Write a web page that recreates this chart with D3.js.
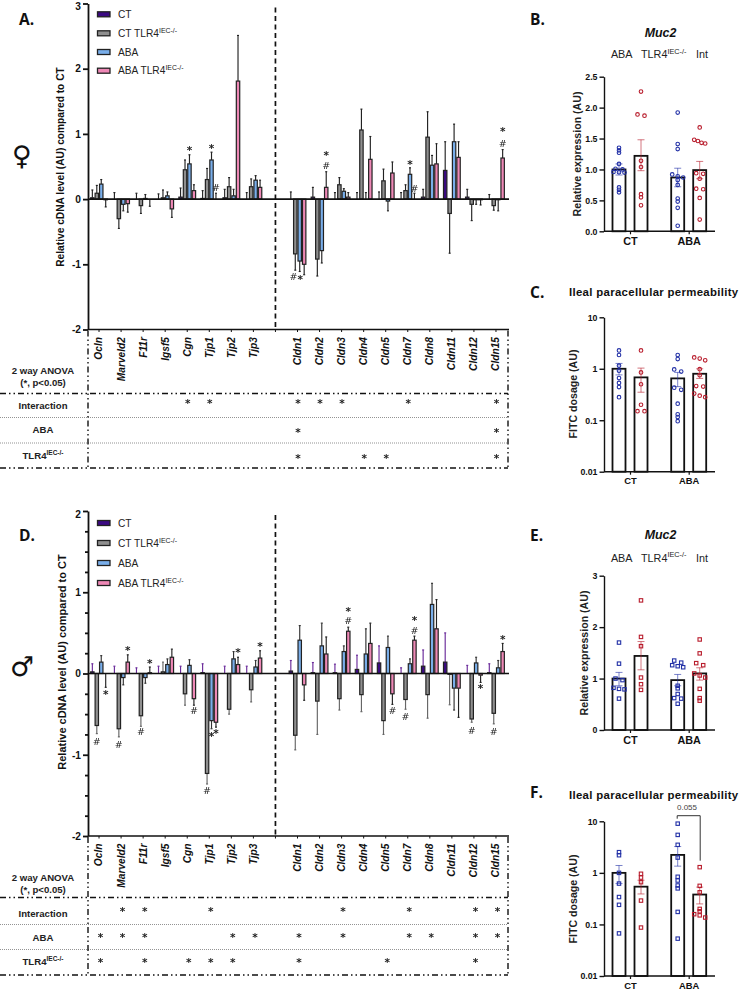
<!DOCTYPE html>
<html>
<head>
<meta charset="utf-8">
<script src="https://cdn.jsdelivr.net/npm/d3@7/dist/d3.min.js"></script>
<style>
  html, body { margin: 0; padding: 0; background: #fff; }
  svg { display: block; font-family: "Liberation Sans", Arial, sans-serif; filter: grayscale(1) hue-rotate(0deg); }
  .axis path, .axis line { stroke: #111; }
  .axis text { fill: #111; font-weight: 700; }
</style>
</head>
<body>
<div id="chart"></div>
<script>
// Tight-junction gene list; the empty slot separates the two gene families.
const GAP = "gap";
const genes = ["Ocln","Marveld2","F11r","Igsf5","Cgn","Tjp1","Tjp2","Tjp3",GAP,
               "Cldn1","Cldn2","Cldn3","Cldn4","Cldn5","Cldn7","Cldn8","Cldn11","Cldn12","Cldn15"];
const geneNames = genes.filter(g => g !== GAP);
const legendNames = ["CT", "CT TLR4", "ABA", "ABA TLR4"];
const seriesColors = ["#3b0a82", "#8f8f8f", "#79aeea", "#ee88b6"];

// Female cDNA levels (bar value and the far end of its error bar)
const femaleCT      = [0.02,0,0,0,0.03,0.01,0.02,0, 0,0.03,0,0,0,0,0.03,0.44,0.03,0];
const femaleCTEnd   = [0.14,0.10,0.09,0.08,0.17,0.13,0.15,0.10, 0.11,0.18,0.10,0.10,0.11,0.10,0.15,0.88,0.15,0.07];
const femaleKO      = [0.09,-0.30,-0.10,0.02,0.45,0.30,0.19,0.19, -0.84,-0.92,0.22,1.06,0.28,0.13,0.95,-0.22,-0.08,-0.10];
const femaleKOEnd   = [0.21,-0.45,-0.22,0.14,0.60,0.47,0.33,0.31, -1.09,-1.18,0.33,1.38,0.46,0.22,1.34,-0.83,-0.33,-0.17];
const femaleABA     = [0.23,-0.08,0.01,0.05,0.54,0.60,0.05,0.29, -0.95,-0.79,0.12,0,-0.03,0.38,0.52,0.88,-0.01,-0.01];
const femaleABAEnd  = [0.30,-0.18,0.07,0.11,0.68,0.72,0.15,0.36, -1.11,-0.98,0.16,0.10,-0.18,0.48,0.67,1.15,-0.08,-0.18];
const femaleBoth    = [-0.01,-0.07,0,-0.15,0.13,0,1.81,0.18, -1.00,0.18,0.03,0.61,0.40,0,0.54,0.64,-0.01,0.63];
const femaleBothEnd = [-0.12,-0.20,-0.11,-0.28,0.22,0.09,2.51,0.29, -1.16,0.42,0.10,0.96,0.57,0.09,0.85,0.88,-0.09,0.76];

// Male cDNA levels
const maleCT      = [0.02,0,0,0,0,0.01,0,0, 0.03,0.01,0.01,0.05,0.13,0,0.09,0.14,0,0.01];
const maleCTEnd   = [0.12,0.09,0.07,0.09,0.09,0.12,0.09,0.09, 0.16,0.135,0.115,0.225,0.34,0.07,0.29,0.50,0.10,0.12];
const maleKO      = [-0.64,-0.68,-0.52,0.02,-0.25,-1.23,-0.44,-0.20, -0.76,-0.34,-0.31,-0.26,-0.58,-0.32,-0.26,-0.01,-0.56,-0.49];
const maleKOEnd   = [-0.74,-0.78,-0.65,0.14,-0.39,-1.36,-0.50,-0.35, -0.94,-0.75,-0.45,-0.47,-0.75,-0.44,-0.55,-0.385,-0.60,-0.62];
const maleABA     = [0.14,-0.05,-0.05,0.11,0.10,-0.58,0.18,0.08, 0.41,0.34,0.27,0.24,0.32,0.12,0.85,-0.18,0.13,0.07];
const maleABAEnd  = [0.22,-0.14,-0.12,0.18,0.17,-0.68,0.27,0.16, 0.59,0.62,0.34,0.55,0.46,0.18,1.11,-0.45,0.20,0.16];
const maleBoth    = [0,0.14,0.01,0.20,-0.31,-0.60,0.11,0.19, -0.14,0.24,0.52,0.37,-0.25,0.41,0.55,-0.18,-0.02,0.27];
const maleBothEnd = [-0.17,0.23,0.08,0.30,-0.39,-0.66,0.20,0.28, -0.33,0.45,0.57,0.62,-0.38,0.46,0.91,-0.54,-0.11,0.37];

// Significance glyphs: gene, treatment index, height on the value axis, glyph
const femaleMarks = [["Cgn",2,0.77,"*"],["Tjp1",2,0.80,"*"],["Tjp1",3,0.18,"#"],
  ["Cldn1",0.6,-1.19,"#"],["Cldn1",2.1,-1.20,"*"],["Cldn2",3,0.69,"*"],["Cldn2",3,0.51,"#"],
  ["Cldn7",2,0.56,"*"],["Cldn7",3,0.16,"#"],["Cldn15",3,1.06,"*"],["Cldn15",3,0.85,"#"]];
const maleMarks = [["Ocln",3,-0.235,"*"],["Ocln",1,-0.84,"#"],["Marveld2",1,-0.87,"#"],["Marveld2",3,0.30,"*"],
  ["F11r",1,-0.72,"#"],["F11r",3,0.15,"*"],["Cgn",3,-0.46,"#"],["Tjp1",1,-1.44,"#"],["Tjp1",2,-0.75,"*"],
  ["Tjp1",3,-0.72,"*"],["Tjp2",3,0.28,"*"],["Tjp3",3,0.36,"*"],["Cldn3",3,0.79,"*"],["Cldn3",3,0.65,"#"],
  ["Cldn5",3,-0.455,"#"],["Cldn7",1,-0.53,"#"],["Cldn7",3,0.67,"*"],["Cldn7",3,0.53,"#"],
  ["Cldn12",1,-0.70,"#"],["Cldn12",3,-0.165,"*"],["Cldn15",1,-0.71,"#"],["Cldn15",3,0.44,"*"]];

// Two-way ANOVA rows: genes carrying a significant effect
const anovaRows = ["Interaction", "ABA", "TLR4"];
const femaleInteraction = ["Cgn","Tjp1","Cldn1","Cldn2","Cldn3","Cldn7","Cldn15"];
const femaleABAEffect   = ["Cldn1","Cldn15"];
const femaleTLR4Effect  = ["Cldn1","Cldn4","Cldn5","Cldn15"];
const maleInteraction = ["Marveld2","F11r","Tjp1","Cldn3","Cldn7","Cldn12","Cldn15"];
const maleABAEffect   = ["Ocln","Marveld2","F11r","Tjp2","Tjp3","Cldn1","Cldn3","Cldn7","Cldn8","Cldn12","Cldn15"];
const maleTLR4Effect  = ["Ocln","F11r","Cgn","Tjp1","Tjp2","Cldn1","Cldn5","Cldn12"];

// Side panels, cells ordered CT, CT TLR4, ABA, ABA TLR4
const treatments = ["CT", "ABA"];
const genotypes = ["ctrl", "ko"];
const mucFemalePoints = [
  [1.35,1.31,1.27,1.09,1.01,1.00,0.96,0.955,0.95,0.71,0.67,0.63],
  [2.26,1.89,1.87,1.14,1.04,0.60,0.55,0.42],
  [1.92,1.41,1.33,0.92,0.89,0.87,0.83,0.75,0.53,0.48,0.38,0.09],
  [1.68,1.48,1.46,1.43,1.42,0.94,0.93,0.85,0.69,0.68,0.54,0.19]];
const mucFemaleMean = [1.00,1.22,0.87,0.99];
const mucFemaleLow  = [0.91,0.98,0.72,0.85];
const mucFemaleHigh = [1.09,1.48,1.02,1.13];

const fitcFemalePoints = [
  [2.27,1.85,1.15,0.92,0.66,0.53,0.44,0.28],
  [2.27,0.85,0.50,0.20,0.15,0.15],
  [1.85,1.54,0.97,0.88,0.43,0.39,0.21,0.13,0.115,0.096],
  [1.66,1.58,1.46,0.98,0.75,0.46,0.45,0.33,0.30,0.28]];
const fitcFemaleMean = [1.00,0.68,0.65,0.80];
const fitcFemaleLow  = [0.76,0.35,0.45,0.65];
const fitcFemaleHigh = [1.27,1.03,0.85,1.00];

const mucMalePoints = [
  [1.70,1.29,1.00,0.97,0.82,0.80,0.79,0.61],
  [2.52,1.81,1.63,1.02,0.89,0.78],
  [1.35,1.31,1.26,1.24,1.22,0.86,0.81,0.70,0.62,0.61,0.51],
  [1.76,1.49,1.30,1.26,1.10,1.06,1.02,0.80,0.62,0.57]];
const mucMaleMean = [1.00,1.44,0.97,1.10];
const mucMaleLow  = [0.86,1.17,0.86,0.97];
const mucMaleHigh = [1.12,1.72,1.08,1.21];

const fitcMalePoints = [
  [2.52,2.20,1.00,0.62,0.34,0.24,0.067],
  [0.96,0.81,0.66,0.29,0.087],
  [9.00,5.45,3.50,1.98,0.84,0.71,0.57,0.50,0.175,0.053],
  [1.29,0.56,0.42,0.20,0.18,0.158,0.15,0.136]];
const fitcMaleMean = [1.00,0.54,2.23,0.38];
const fitcMaleLow  = [0.62,0.39,1.35,0.25];
const fitcMaleHigh = [1.39,0.72,3.24,0.53];

const svg = d3.select("#chart").append("svg").attr("width", 750).attr("height", 990).style("filter", "none");

// Writes "TLR4" followed by the raised IEC-/- suffix into a text element.
function tlrText(sel, prefix, size) {
  sel.append("tspan").text(prefix + "TLR4");
  sel.append("tspan").attr("dy", -size * 0.38).attr("font-size", size * 0.68).text("IEC-/-");
}

function drawPanelLetter(label, x, y) {
  svg.append("text").attr("x", x).attr("y", y).text(label)
    .attr("font-family", "'Open Sans', sans-serif").attr("font-weight", 700).attr("font-size", 15.5).attr("fill", "#111");
}

// Large grouped bar panel with its ANOVA table below
function drawGenePanel(cfg) {
  const g = svg.append("g");
  const left = 88, right = 507;
  const x = d3.scaleBand().domain(genes).range([left, right]);
  const inner = d3.scaleLinear().domain([0, 3]).range([-6.675, 6.675]);
  const y = d3.scaleLinear().domain([-2, cfg.top]).range([cfg.y0, cfg.y1]);
  const axisBack = g.append("g");

  // gene families separator
  axisBack.append("line").attr("x1", x(GAP) + x.bandwidth() / 2).attr("x2", x(GAP) + x.bandwidth() / 2)
    .attr("y1", cfg.y1 + 4).attr("y2", cfg.y0)
    .attr("stroke", "#111").attr("stroke-width", 1.7).attr("stroke-dasharray", "5 3.5");

  cfg.series.forEach((s, i) => {
    const sg = g.append("g");
    const cx = gene => x(gene) + x.bandwidth() / 2 + inner(i);
    const errColor = (cfg.errColors && cfg.errColors[i]) || "#222";
    s.values.forEach((v, k) => {
      const gene = geneNames[k], end = s.ends[k], px = cx(gene);
      sg.append("line").attr("x1", px).attr("x2", px).attr("y1", y(v)).attr("y2", y(end))
        .attr("stroke", errColor).attr("stroke-width", 1.15);
      sg.append("line").attr("x1", px - 1).attr("x2", px + 1).attr("y1", y(end)).attr("y2", y(end))
        .attr("stroke", errColor).attr("stroke-width", 1.15);
      sg.append("rect").attr("x", px - 1.7).attr("width", 3.4)
        .attr("y", Math.min(y(v), y(0))).attr("height", Math.abs(y(v) - y(0)))
        .attr("fill", seriesColors[i]).attr("stroke", "#222").attr("stroke-width", 1.2);
    });
  });

  // y axis and zero line: integers carry labels, quarter steps only a short tick
  const yAxis = d3.axisLeft(y).tickValues(cfg.ticks)
    .tickFormat(d => Number.isInteger(d) ? String(d) : "")
    .tickSize(5).tickSizeOuter(0).tickPadding(2);
  g.append("g").attr("class", "axis").attr("transform", `translate(${left},0)`).call(yAxis)
    .call(a => a.selectAll("line,path").attr("stroke-width", 1.8))
    .call(a => a.selectAll(".tick").filter(d => !Number.isInteger(d)).select("line").attr("x2", -3))
    .call(a => a.selectAll("text").attr("font-size", 10.2))
    .call(a => a.selectAll(".tick").filter(d => d === cfg.top).select("text").attr("dy", "0.6em"));
  g.append("line").attr("x1", left).attr("x2", 509).attr("y1", y(0)).attr("y2", y(0))
    .attr("stroke", "#111").attr("stroke-width", 1.7);

  // gene axis along the bottom
  const xAxis = d3.axisBottom(x).tickFormat(d => d === GAP ? "" : d).tickSize(2.5).tickSizeOuter(0);
  const xG = g.append("g").attr("class", "axis").attr("transform", `translate(0,${cfg.y0})`).call(xAxis);
  xG.selectAll("path").attr("d", `M${left},0H509`).attr("stroke-width", 1.7);
  xG.selectAll("line").attr("stroke-width", 1);
  xG.selectAll("text").attr("transform", "rotate(-90)")
    .attr("x", -7.5).attr("y", 0).attr("dy", "0.34em")
    .attr("text-anchor", "end").attr("font-style", "italic").attr("font-size", 10.2);

  // significance glyphs over the bars
  cfg.marks.forEach(([gene, si, val, glyph]) => {
    const px = x(gene) + x.bandwidth() / 2 + inner(si);
    g.append("text").attr("x", px).attr("y", y(val)).attr("text-anchor", "middle")
      .attr("dy", glyph === "*" ? "0.5em" : "0.36em")
      .attr("font-family", "'DejaVu Sans', sans-serif")
      .attr("font-weight", glyph === "*" ? 700 : 400)
      .attr("font-size", glyph === "*" ? 10.5 : 9.5).attr("fill", "#222")
      .style("filter", "grayscale(1)").text(glyph);
  });

  // value axis caption
  g.append("text").attr("transform", `translate(${cfg.labelX},${cfg.labelY}) rotate(-90)`)
    .attr("text-anchor", "middle").attr("font-weight", 700).attr("font-size", cfg.labelSize).attr("fill", "#111")
    .text("Relative cDNA level (AU) compared to CT");

  // legend
  legendNames.forEach((name, i) => {
    const ly = cfg.legendYs[i];
    g.append("rect").attr("x", 97.5).attr("y", ly - 2.5).attr("width", 12.5).attr("height", 5)
      .attr("fill", seriesColors[i]).attr("stroke", "#222").attr("stroke-width", 1.3);
    const t = g.append("text").attr("x", 118).attr("y", ly + 3.6).attr("font-size", 10.2).attr("fill", "#222");
    if (i % 2) tlrText(t, name.replace("TLR4", ""), 10.2); else t.text(name);
  });

  // ANOVA table
  const t = cfg.table;
  const hLine = (yy, main) => g.append("line").attr("x1", 0).attr("x2", 508).attr("y1", yy).attr("y2", yy)
    .attr("stroke", main ? "#111" : "#777").attr("stroke-width", main ? 1.5 : 0.8)
    .attr("stroke-dasharray", main ? "6 3 1.5 3 1.5 3" : "1 1");
  hLine(t.lines[0], true); hLine(t.lines[1], false); hLine(t.lines[2], false); hLine(t.lines[3], true);
  [left, 508].forEach(vx => g.append("line").attr("x1", vx).attr("x2", vx).attr("y1", cfg.y0 + 1).attr("y2", t.lines[3])
    .attr("stroke", "#111").attr("stroke-width", 1.4).attr("stroke-dasharray", "6 3 1.5 3 1.5 3"));

  const center = 43;
  const cell = (yy, txt) => g.append("text").attr("x", center).attr("y", yy).attr("text-anchor", "middle")
    .attr("font-weight", 700).attr("font-size", 9.6).attr("fill", "#222").text(txt);
  cell(t.head[0], "2 way ANOVA");
  cell(t.head[1], "(*, p<0.05)");
  cell(t.rows[0], anovaRows[0]);
  cell(t.rows[1], anovaRows[1]);
  const tlr = g.append("text").attr("x", center).attr("y", t.rows[2]).attr("text-anchor", "middle")
    .attr("font-weight", 700).attr("font-size", 9.6).attr("fill", "#222");
  tlrText(tlr, "", 9.6);

  t.effects.forEach((list, r) => list.forEach(gene => {
    g.append("text").attr("x", x(gene) + x.bandwidth() / 2 + t.nudge).attr("y", t.starY[r])
      .attr("text-anchor", "middle").attr("dy", "0.5em").attr("font-weight", 700)
      .attr("font-family", "'DejaVu Sans', sans-serif").attr("font-size", 10.5).attr("fill", "#222")
      .style("filter", "grayscale(1)").text("*");
  }));
}

// Spreads near-equal readings sideways so that every point stays visible.
function spreadPoints(values, y) {
  const sorted = values.map(v => ({ v, py: y(v) })).sort((a, b) => a.py - b.py);
  const out = [];
  let run = [];
  const flush = () => {
    const n = run.length;
    const span = n === 1 ? 0 : n === 2 ? 3.5 : 5.5;
    run.forEach((p, i) => out.push({ v: p.v, dx: n === 1 ? 0 : -span + 2 * span * i / (n - 1) }));
    run = [];
  };
  sorted.forEach(p => {
    if (run.length && (p.py - run[run.length - 1].py > 2.2 || run.length === 5)) flush();
    run.push(p);
  });
  flush();
  return out;
}

// Small two-by-two bar panel with overlaid individual values
function drawDotPanel(cfg) {
  const g = svg.append("g");
  const left = 604;
  const x = d3.scalePoint().domain(treatments).range([630, 688.7]);
  const sub = d3.scalePoint().domain(genotypes).range([-11, 11]);
  const y = cfg.log
    ? d3.scaleLog().domain([0.01, 10]).range([cfg.y0, cfg.y1])
    : d3.scaleLinear().domain([0, cfg.max]).range([cfg.y0, cfg.y1]);
  const blue = "#2230a6", red = "#b81c2c";

  treatments.forEach((tr, ti) => genotypes.forEach((ge, gi) => {
    const k = ti * 2 + gi, cx = x(tr) + sub(ge), color = gi ? red : blue;
    g.append("rect").attr("x", cx - 6.5).attr("width", 13).attr("y", y(cfg.mean[k])).attr("height", cfg.y0 - y(cfg.mean[k]))
      .attr("fill", "#fff").attr("stroke", "#111").attr("stroke-width", 1.8);
    const eg = g.append("g").attr("stroke", color).attr("stroke-opacity", 0.6).attr("stroke-width", 1);
    eg.append("line").attr("x1", cx).attr("x2", cx).attr("y1", y(cfg.low[k])).attr("y2", y(cfg.high[k]));
    [cfg.low[k], cfg.high[k]].forEach(e => eg.append("line").attr("x1", cx - 3.5).attr("x2", cx + 3.5).attr("y1", y(e)).attr("y2", y(e)));
    spreadPoints(cfg.points[k], y).forEach(p => {
      const px = cx + p.dx, py = y(p.v);
      if (cfg.square) {
        g.append("rect").attr("x", px - 1.7).attr("y", py - 1.7).attr("width", 3.4).attr("height", 3.4)
          .attr("fill", "none").attr("stroke", color).attr("stroke-width", 1.1);
      } else {
        g.append("circle").attr("cx", px).attr("cy", py).attr("r", 1.8)
          .attr("fill", "none").attr("stroke", color).attr("stroke-width", 1.1);
      }
    });
  }));

  const yAxis = d3.axisLeft(y).tickSize(4.5).tickSizeOuter(0).tickPadding(2);
  if (cfg.log) yAxis.tickValues([0.01, 0.1, 1, 10]).tickFormat(d => String(d));
  else yAxis.tickValues(cfg.ticks).tickFormat(cfg.fmt);
  g.append("g").attr("class", "axis").attr("transform", `translate(${left},0)`).call(yAxis)
    .call(a => a.selectAll("line,path").attr("stroke-width", 1.4))
    .call(a => a.selectAll("text").attr("font-size", 8.8));

  const xG = g.append("g").attr("class", "axis").attr("transform", `translate(0,${cfg.y0})`)
    .call(d3.axisBottom(x).tickSize(3).tickSizeOuter(0).tickPadding(3));
  xG.select("path").attr("d", `M${left},0H715`).attr("stroke-width", 1.4);
  xG.selectAll("line").attr("stroke-width", 1.2);
  xG.selectAll("text").attr("font-size", cfg.log ? 9.4 : 10.8);

  g.append("text").attr("transform", `translate(${cfg.labelX},${cfg.labelY}) rotate(-90)`)
    .attr("text-anchor", "middle").attr("font-weight", 700).attr("font-size", 10.6).attr("fill", "#222")
    .text(cfg.label);

  if (cfg.title) {
    g.append("text").attr("x", 660.5).attr("y", cfg.titleY).attr("text-anchor", "middle")
      .attr("font-weight", 700).attr("font-style", "italic").attr("font-size", 12.4).attr("fill", "#111").text(cfg.title);
    g.append("text").attr("x", 621.7).attr("y", cfg.factorY).attr("text-anchor", "middle").attr("font-size", 10.8).attr("fill", "#222").text("ABA");
    tlrText(g.append("text").attr("x", 641).attr("y", cfg.factorY).attr("font-size", 10.8).attr("fill", "#222"), "", 10.8);
    g.append("text").attr("x", 702).attr("y", cfg.factorY).attr("text-anchor", "middle").attr("font-size", 10.8).attr("fill", "#222").text("Int");
  } else {
    g.append("text").attr("x", 569).attr("y", cfg.titleY).attr("font-weight", 700).attr("font-size", 11.4)
      .attr("letter-spacing", 0.32).attr("fill", "#111").text("Ileal paracellular permeability");
  }

  if (cfg.bracket) {
    const [a, b] = cfg.bracket;
    const xa = x("ABA") + sub("ctrl") - 0.5, xb = x("ABA") + sub("ko") + 0.5;
    g.append("path").attr("d", `M${xa},${a + 3}V${a}H${xb}V${b}`)
      .attr("fill", "none").attr("stroke", "#333").attr("stroke-width", 1);
    g.append("text").attr("x", 687).attr("y", a - 6).attr("text-anchor", "middle")
      .attr("font-size", 8).attr("fill", "#444").text(cfg.bracketLabel);
  }
}

drawGenePanel({
  top: 3, y0: 329.5, y1: 3.5, ticks: [-2,-1,0,1,2,3],
  series: [{values: femaleCT, ends: femaleCTEnd}, {values: femaleKO, ends: femaleKOEnd},
           {values: femaleABA, ends: femaleABAEnd}, {values: femaleBoth, ends: femaleBothEnd}],
  marks: femaleMarks,
  labelX: 63.5, labelY: 167, labelSize: 10.2,
  legendYs: [14.3, 33.3, 52, 70.7],
  table: { lines: [393.5, 417.5, 443, 468], head: [373.5, 386], rows: [409, 433, 459],
           starY: [402, 431, 457], nudge: 0.5,
           effects: [femaleInteraction, femaleABAEffect, femaleTLR4Effect] }
});

drawGenePanel({
  top: 2, y0: 836, y1: 511, ticks: d3.range(-2, 2.01, 0.25),
  series: [{values: maleCT, ends: maleCTEnd}, {values: maleKO, ends: maleKOEnd},
           {values: maleABA, ends: maleABAEnd}, {values: maleBoth, ends: maleBothEnd}],
  errColors: ["#6a2a9a", "#666", "#333", "#222"],
  marks: maleMarks,
  labelX: 65.5, labelY: 662, labelSize: 11,
  legendYs: [523, 543, 563, 583],
  table: { lines: [897.5, 924.5, 949.5, 975], head: [881, 893], rows: [916.5, 940.5, 964.5],
           starY: [910, 936, 961], nudge: 1.5,
           effects: [maleInteraction, maleABAEffect, maleTLR4Effect] }
});

drawDotPanel({ y0: 231.3, y1: 76.7, max: 2.5, ticks: [0,0.5,1,1.5,2,2.5], fmt: d3.format(".1f"),
  points: mucFemalePoints, mean: mucFemaleMean, low: mucFemaleLow, high: mucFemaleHigh,
  label: "Relative expression (AU)", labelX: 581, labelY: 154, title: "Muc2", titleY: 36.5, factorY: 58 });
drawDotPanel({ log: true, y0: 471.7, y1: 317.3,
  points: fitcFemalePoints, mean: fitcFemaleMean, low: fitcFemaleLow, high: fitcFemaleHigh,
  label: "FITC dosage (AU)", labelX: 577, labelY: 394, titleY: 296 });
drawDotPanel({ square: true, y0: 730, y1: 575.7, max: 3, ticks: [0,1,2,3], fmt: d3.format("d"),
  points: mucMalePoints, mean: mucMaleMean, low: mucMaleLow, high: mucMaleHigh,
  label: "Relative expression (AU)", labelX: 588, labelY: 653, title: "Muc2", titleY: 539, factorY: 561.5 });
drawDotPanel({ log: true, square: true, y0: 976, y1: 821.3,
  points: fitcMalePoints, mean: fitcMaleMean, low: fitcMaleLow, high: fitcMaleHigh,
  label: "FITC dosage (AU)", labelX: 577, labelY: 899, titleY: 799,
  bracket: [815.7, 860.7], bracketLabel: "0.055" });

[["A.",19,25],["D.",19,541],["B.",530,25],["C.",530,298],["E.",530,541],["F.",530,798]]
  .forEach(([l, px, py]) => drawPanelLetter(l, px, py));

// sex symbols beside the gene panels
svg.append("text").attr("x", 22).attr("y", 165).attr("text-anchor", "middle")
  .attr("font-family", "'DejaVu Sans', sans-serif").attr("font-size", 27).attr("fill", "#111").text("♀");
svg.append("text").attr("x", 22).attr("y", 676).attr("text-anchor", "middle")
  .attr("font-family", "'DejaVu Sans', sans-serif").attr("font-size", 27).attr("fill", "#111").text("♂");
</script>
</body>
</html>
